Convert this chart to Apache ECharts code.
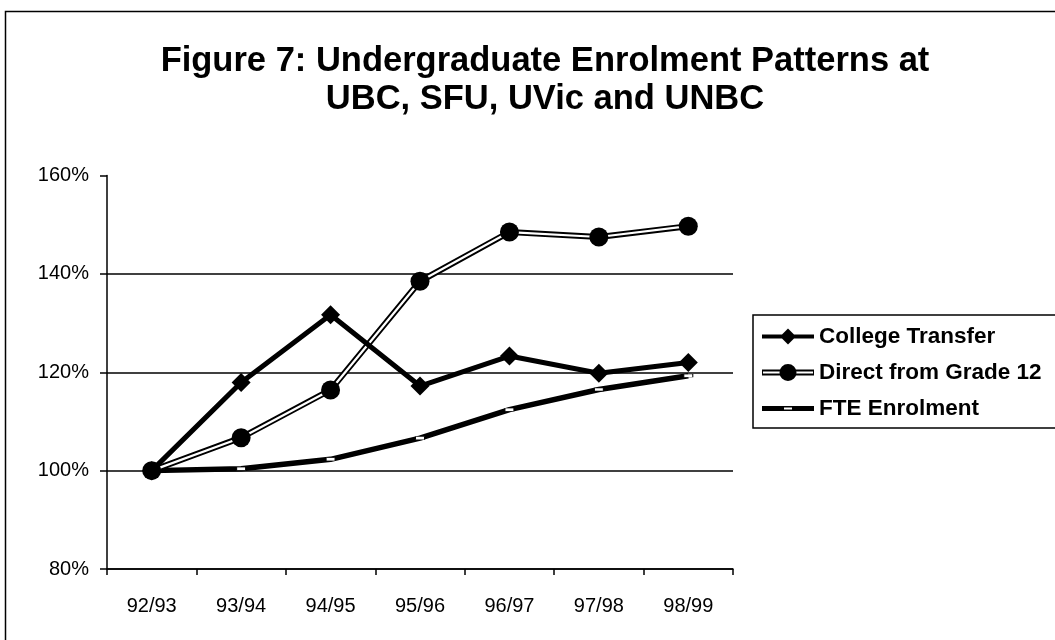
<!DOCTYPE html>
<html>
<head>
<meta charset="utf-8">
<script src="https://cdn.jsdelivr.net/npm/echarts@6/dist/echarts.min.js"></script>
<style>
  html, body { margin: 0; padding: 0; background: #fff; }
  #chart { width: 1055px; height: 640px; }
</style>
</head>
<body>
<div id="chart"></div>
<script>
var years = ['92/93', '93/94', '94/95', '95/96', '96/97', '97/98', '98/99']
var collegeTransfer = [100, 117.9, 131.7, 117.2, 123.3, 119.8, 122.0]
var directGrade12 = [100, 106.7, 116.4, 138.5, 148.5, 147.5, 149.7]
var fteEnrolment = [100, 100.4, 102.3, 106.6, 112.4, 116.5, 119.3]
var yTicks = [80, 100, 120, 140, 160]

var font = 'Liberation Sans'
var chart = echarts.init(document.getElementById('chart'))

// legend icons: line + marker drawn as one path (52 px wide)
var iconDiamond = 'path://M0 7L52 7L52 11L0 11Z M26 1L34 9L26 17L18 9Z'
var iconCircle = 'path://M0 6L52 6L52 12L0 12Z M1 8L1 10L51 10L51 8Z ' +
  'M17.5 9A8.5 8.5 0 1 1 34.5 9A8.5 8.5 0 1 1 17.5 9Z'
var iconDash = 'path://M0 7L52 7L52 12L0 12Z M22 8.5L22 10.5L30 10.5L30 8.5Z'

var option = {
  backgroundColor: '#fff',
  animation: false,
  title: {
    text: 'Figure 7: Undergraduate Enrolment Patterns at\nUBC, SFU, UVic and UNBC',
    left: 540,
    textAlign: 'center',
    top: 37,
    textStyle: {
      fontFamily: font,
      fontWeight: 'bold',
      fontSize: 34.5,
      lineHeight: 38,
      color: '#000'
    }
  },
  graphic: [{
    type: 'rect',
    left: 3,
    top: 9,
    shape: { width: 1100, height: 700 },
    style: { fill: 'none', stroke: '#000', lineWidth: 1.5 }
  }],
  legend: {
    orient: 'vertical',
    left: 753,
    top: 315,
    padding: [10, 40, 8, 9],
    itemGap: 13,
    itemWidth: 52,
    itemHeight: 18,
    symbolKeepAspect: true,
    borderColor: '#000',
    borderWidth: 1.5,
    itemStyle: { borderWidth: 0 },
    data: [
      { name: 'College Transfer', icon: iconDiamond, itemStyle: { color: '#000' } },
      { name: 'Direct from Grade 12', icon: iconCircle, itemStyle: { color: '#000' } },
      { name: 'FTE Enrolment', icon: iconDash, itemStyle: { color: '#000', borderWidth: 0 } }
    ],
    textStyle: {
      fontFamily: font,
      fontWeight: 'bold',
      fontSize: 22.5,
      color: '#000'
    }
  },
  grid: {
    left: 107,
    top: 175.5,
    right: 322,
    bottom: 71
  },
  xAxis: {
    type: 'category',
    data: years,
    boundaryGap: true,
    axisLine: { lineStyle: { color: '#000', width: 1.5 } },
    axisTick: { show: true, length: 6, lineStyle: { color: '#000', width: 1.5 } },
    axisLabel: {
      margin: 27,
      fontFamily: font,
      fontSize: 20,
      color: '#000'
    },
    splitLine: { show: false }
  },
  yAxis: {
    type: 'value',
    min: yTicks[0],
    max: yTicks[yTicks.length - 1],
    interval: 20,
    axisLine: { show: true, lineStyle: { color: '#000', width: 1.5 } },
    axisTick: { show: true, length: 7, lineStyle: { color: '#000', width: 1.5 } },
    axisLabel: {
      margin: 18,
      fontFamily: font,
      fontSize: 20,
      color: '#000',
      formatter: '{value}%'
    },
    splitLine: {
      show: true,
      lineStyle: {
        color: ['#000', '#000', '#000', '#000', 'rgba(0,0,0,0)'],
        width: 1.5
      }
    }
  },
  series: [
    {
      name: 'FTE Enrolment',
      type: 'line',
      data: fteEnrolment,
      z: 2,
      symbol: 'rect',
      symbolSize: [9, 3],
      showAllSymbol: true,
      lineStyle: { color: '#000', width: 5.5 },
      itemStyle: { color: '#fff', borderColor: '#000', borderWidth: 0.6 }
    },
    {
      name: 'direct-outline',
      type: 'line',
      data: directGrade12,
      z: 3,
      symbol: 'none',
      lineStyle: { color: '#000', width: 6 }
    },
    {
      name: 'Direct from Grade 12',
      type: 'line',
      data: directGrade12,
      z: 4,
      symbol: 'circle',
      symbolSize: 19,
      lineStyle: { color: '#fff', width: 2.2 },
      itemStyle: { color: '#000' }
    },
    {
      name: 'College Transfer',
      type: 'line',
      data: collegeTransfer,
      z: 5,
      symbol: 'diamond',
      symbolSize: 19,
      lineStyle: { color: '#000', width: 5 },
      itemStyle: { color: '#000' }
    }
  ]
}
chart.setOption(option)
</script>
</body>
</html>
